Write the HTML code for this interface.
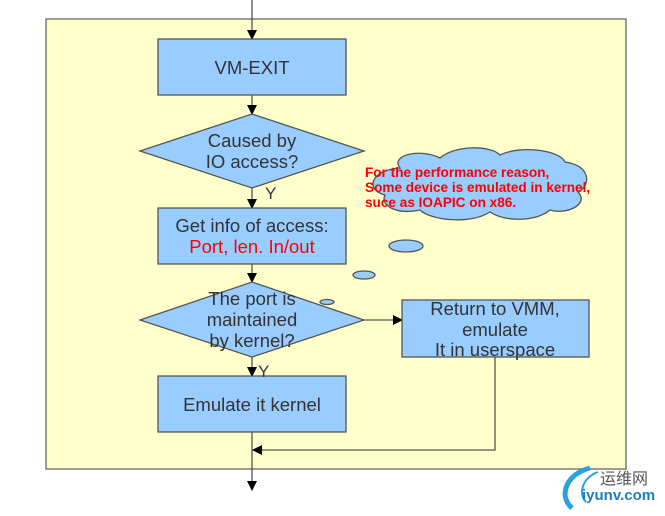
<!DOCTYPE html>
<html><head><style>
body{margin:0;width:665px;height:511px;background:#fff;overflow:hidden}
svg text{font-family:"Liberation Sans",sans-serif}
</style></head><body>
<svg width="665" height="511" viewBox="0 0 665 511" xmlns="http://www.w3.org/2000/svg">
<defs><marker id="a" markerWidth="10" markerHeight="10" refX="9" refY="5" orient="auto" markerUnits="userSpaceOnUse"><path d="M0,0 L10,5 L0,10Z" fill="#000"/></marker></defs>
<rect x="46" y="19" width="580" height="450" fill="#ffffcc" stroke="#666" stroke-width="1.3"/>
<g stroke="#555" stroke-width="1.3" fill="none">
<line x1="252" y1="0" x2="252" y2="39" marker-end="url(#a)"/>
<line x1="252" y1="95" x2="252" y2="114" marker-end="url(#a)"/>
<line x1="252" y1="188" x2="252" y2="208" marker-end="url(#a)"/>
<line x1="252" y1="264" x2="252" y2="282" marker-end="url(#a)"/>
<line x1="252" y1="357" x2="252" y2="376" marker-end="url(#a)"/>
<line x1="364" y1="320" x2="402" y2="320" marker-end="url(#a)"/>
<polyline points="495,357 495,450 252,450" />
<line x1="262" y1="450" x2="253" y2="450" marker-end="url(#a)"/>
<line x1="252" y1="432" x2="252" y2="490" marker-end="url(#a)"/>
</g>
<g fill="#99ccff" stroke="#555" stroke-width="1.3">
<rect x="158" y="39" width="188" height="56"/>
<polygon points="252,114 364,151 252,188 140,151"/>
<rect x="158" y="208" width="188" height="56"/>
<polygon points="252,282 364,320 252,357 140,320"/>
<rect x="158" y="376" width="188" height="56"/>
<rect x="402" y="300" width="187" height="57"/>
<ellipse cx="406" cy="246" rx="17" ry="6"/>
<ellipse cx="364" cy="275" rx="11" ry="4"/>
<ellipse cx="327" cy="302" rx="7" ry="2.5"/>
<path d="M400,168 C390,155 420,148 440,158 C455,145 490,145 500,155 C520,145 560,150 565,162 C590,165 592,185 578,192 C590,205 565,215 550,210 C535,222 505,222 490,212 C470,225 430,220 420,210 C395,215 380,205 385,195 C365,190 370,170 400,168Z"/>
</g>
<g fill="#333" font-size="18.5" text-anchor="middle">
<text x="252" y="74">VM-EXIT</text>
<text x="252" y="147">Caused by</text>
<text x="252" y="168">IO access?</text>
<text x="252" y="232">Get info of access:</text>
<text x="252" y="253" fill="#ff0000">Port, len. In/out</text>
<text x="252" y="305">The port is</text>
<text x="252" y="326">maintained</text>
<text x="252" y="347">by kernel?</text>
<text x="252" y="411">Emulate it kernel</text>
<text x="495" y="315">Return to VMM,</text>
<text x="495" y="336">emulate</text>
<text x="495" y="356">It in userspace</text>
<text x="265" y="199" text-anchor="start" fill="#335" font-size="17">Y</text>
<text x="258" y="377" text-anchor="start" fill="#335" font-size="17">Y</text>
</g>
<g fill="#ff0000" font-size="13.6" font-weight="bold">
<text x="365" y="177">For the performance reason,</text>
<text x="365" y="192">Some device is emulated in kernel,</text>
<text x="365" y="207">suce as IOAPIC on x86.</text>
</g>
<path d="M590,468 C566,474 558,496 572,508" stroke="#29a0e0" stroke-width="5" fill="none"/>
<path d="M598,472 C582,478 578,494 586,502" stroke="#29a0e0" stroke-width="2" fill="none"/>
<text x="600" y="484" font-size="16" fill="#555" style="font-family:'Liberation Sans','Noto Sans CJK SC',sans-serif">运维网</text>
<text x="582" y="500" font-size="15" font-weight="bold" fill="#1a7fc0">iyunv.com</text>
</svg>
</body></html>
